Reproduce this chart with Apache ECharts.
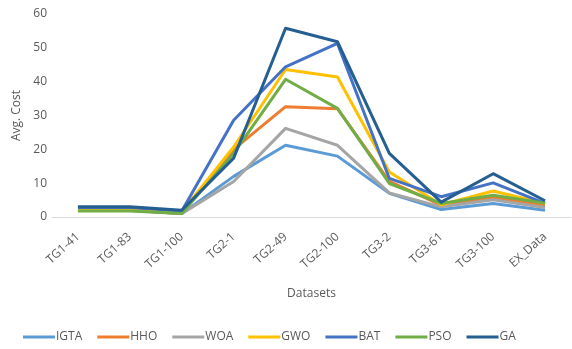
<!DOCTYPE html>
<html><head><meta charset="utf-8">
<script src="https://cdn.jsdelivr.net/npm/echarts@6/dist/echarts.min.js"></script>
<style>html,body{margin:0;padding:0;background:#fff}#c{width:572px;height:349px}</style>
</head><body><div id="c"></div>
<script>
const categories = ['TG1-41','TG1-83','TG1-100','TG2-1','TG2-49','TG2-100','TG3-2','TG3-61','TG3-100','EX_Data'];
const seriesNames = ['IGTA','HHO','WOA','GWO','BAT','PSO','GA'];
const IGTA = [2, 2, 1, 12, 21.2, 18, 7, 2.2, 4, 2];
const HHO  = [2, 2, 1, 20, 32.6, 32, 10.5, 3.5, 5.7, 3.5];
const WOA  = [2, 2, 1, 10.5, 26.2, 21.2, 7.1, 3, 5.1, 2.8];
const GWO  = [2.5, 2.5, 1.5, 20.7, 43.6, 41.4, 13.3, 3.6, 7.7, 4];
const BAT  = [2.8, 2.8, 1.8, 28.6, 44.4, 51.3, 11.4, 6, 10.1, 4];
const PSO  = [1.8, 1.8, 1, 18.8, 40.7, 32.1, 9.9, 4, 6.4, 4.1];
const GA   = [3, 3, 2, 17.4, 55.8, 51.8, 18.8, 4.4, 12.8, 4.8];
const yTicks = [0, 10, 20, 30, 40, 50, 60];
const colors = ['#5B9BD5','#ED7D31','#A5A5A5','#FFC000','#4472C4','#70AD47','#255E91'];
const data = [IGTA, HHO, WOA, GWO, BAT, PSO, GA];

const font = 'Open Sans';
const chart = echarts.init(document.getElementById('c'));
chart.setOption({
  animation: false,
  color: colors,
  grid: {left: 52, right: 1, top: 14, bottom: 132, containLabel: false},
  legend: {
    bottom: 1, left: 18, itemGap: 15, itemWidth: 32, itemHeight: 3,
    icon: 'rect',
    textStyle: {color: '#595959', fontFamily: font, fontSize: 12, padding: [0,0,0,-4]},
    data: seriesNames
  },
  xAxis: {
    type: 'category', data: categories, boundaryGap: true,
    axisLine: {lineStyle: {color: '#D9D9D9', width: 1}},
    axisTick: {show: false},
    axisLabel: {rotate: 42, color: '#595959', fontFamily: font, fontSize: 12, margin: 18, interval: 0},
    name: 'Datasets', nameLocation: 'middle', nameGap: 71,
    nameTextStyle: {color: '#595959', fontFamily: font, fontSize: 12}
  },
  yAxis: {
    type: 'value', min: yTicks[0], max: yTicks[yTicks.length-1], interval: 10,
    axisLine: {show: false}, axisTick: {show: false}, splitLine: {show: false},
    axisLabel: {color: '#595959', fontFamily: font, fontSize: 12, margin: 5},
    name: 'Avg. Cost', nameLocation: 'middle', nameGap: 28,
    nameTextStyle: {color: '#595959', fontFamily: font, fontSize: 12}
  },
  series: seriesNames.map((n, i) => ({
    name: n, type: 'line', data: data[i], symbol: 'none',
    lineStyle: {width: 3, color: colors[i], join: 'round'}
  }))
});
</script></body></html>
